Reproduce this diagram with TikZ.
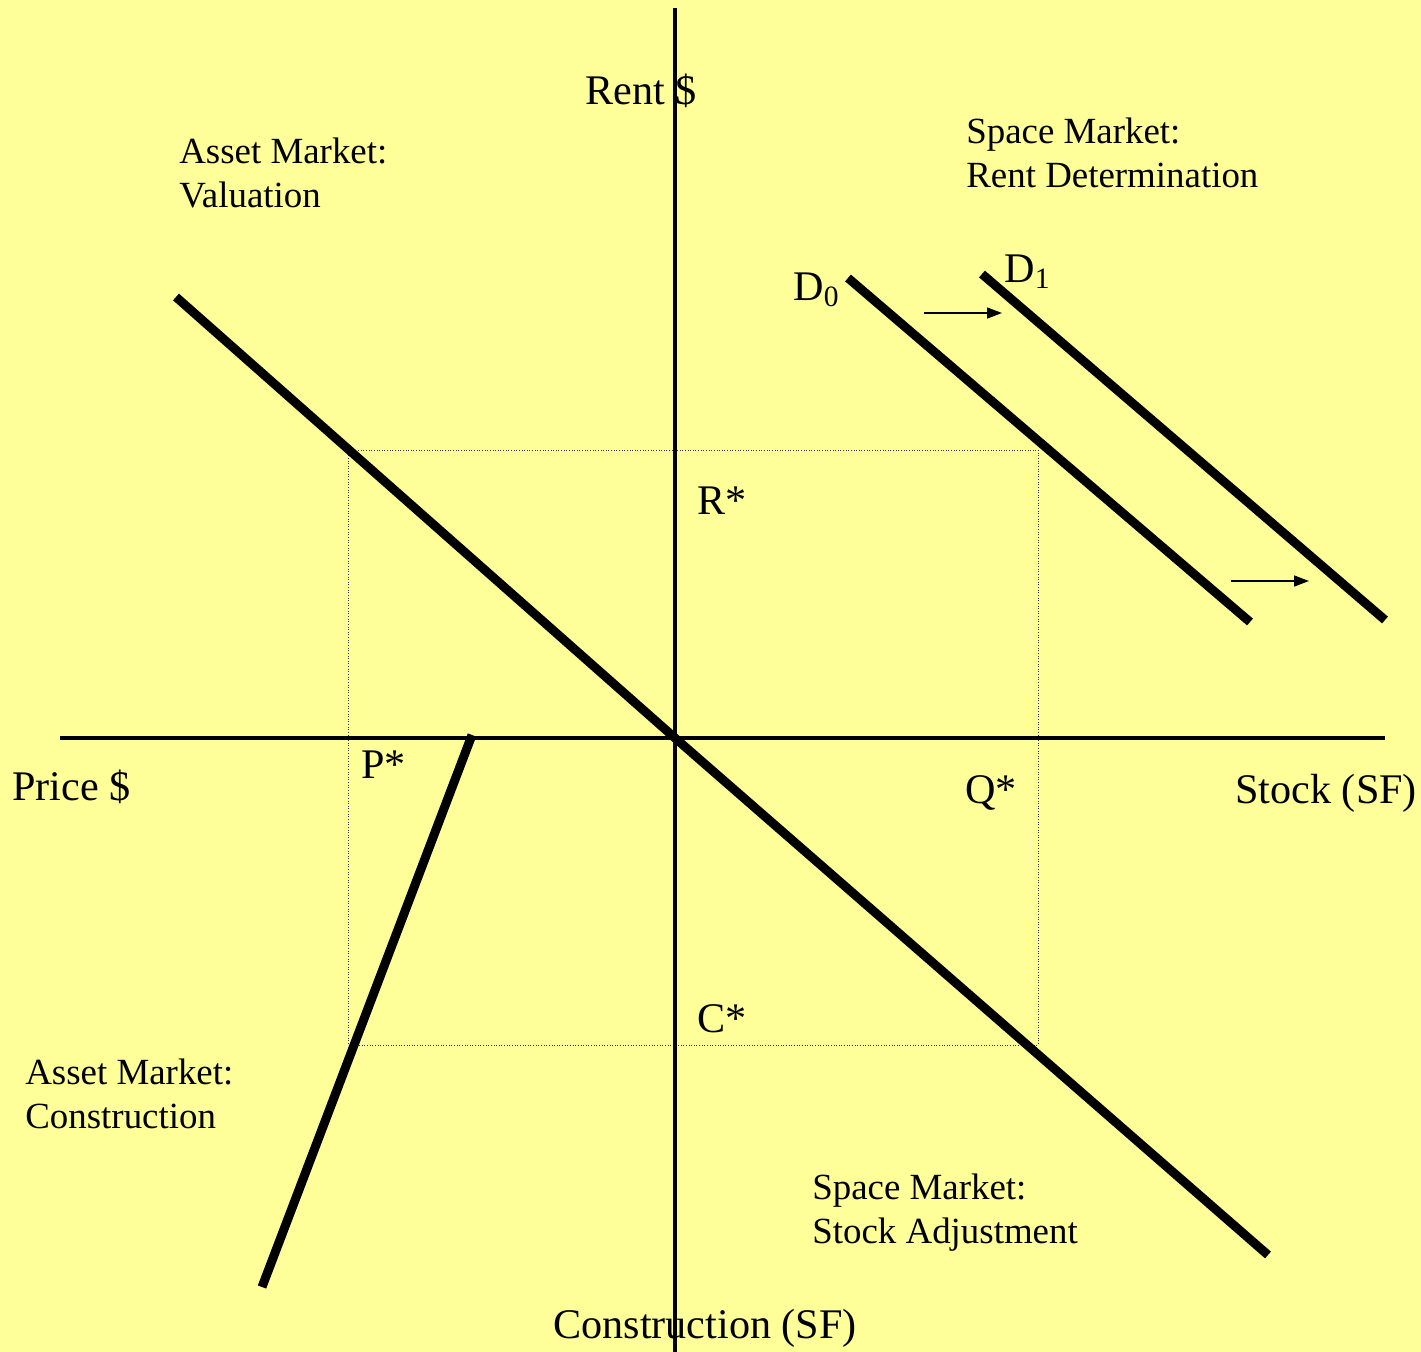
\documentclass[tikz,border=0pt]{standalone}
\usepackage{fontspec}
\setmainfont{Liberation Serif}
\usetikzlibrary{arrows.meta,positioning}
\definecolor{qsBack}{HTML}{FFFF99}
\tikzset{
  axis/.style={line width=2.3pt, black},
  curve/.style={line width=5.1pt, black},
  guide/.style={line width=0.5pt, black!80, densely dotted},
  shiftarrow/.style={-{Triangle[length=3mm, width=2.2mm]}, line width=0.9pt},
  lbl/.style={font=\fontsize{24}{28}\selectfont, inner sep=0pt, anchor=base west},
  note/.style={font=\fontsize{21}{25}\selectfont, inner sep=0pt, anchor=north west, align=left}
}
\begin{document}
\begin{tikzpicture}[x=0.02cm, y=-0.02cm]
  % background
  \fill[qsBack] (0,0) rectangle (1421,1352);
  \useasboundingbox (0,0) rectangle (1421,1352);

  % axes
  \coordinate (o) at (675,738);
  \coordinate (ytop) at (675,8);
  \coordinate (ybot) at (675,1352);
  \coordinate (xl) at (60,738);
  \coordinate (xr) at (1385,738);

  % equilibrium box
  \coordinate (bnw) at (348,450);
  \coordinate (bse) at (1038,1045);
  \draw[guide] (bnw) rectangle (bse);

  \draw[axis] (ytop) -- (ybot);
  \draw[axis] (xl) -- (xr);

  % curves
  \coordinate (val0) at (176,297);
  \coordinate (stk1) at (1268,1255);
  \coordinate (d0a) at (848,278);
  \coordinate (d0b) at (1250,622);
  \coordinate (d1a) at (982,274);
  \coordinate (d1b) at (1385,620);
  \coordinate (con0) at (472,735);
  \coordinate (con1) at (262,1287);
  \draw[curve] (val0) -- (o);
  \draw[curve] (o) -- (stk1);
  \draw[curve] (d0a) -- (d0b);
  \draw[curve] (d1a) -- (d1b);
  \draw[curve] (con0) -- (con1);

  % demand shift
  \coordinate (sh1a) at (924,313);
  \coordinate (sh1b) at (1002,313);
  \coordinate (sh2a) at (1231,581);
  \coordinate (sh2b) at (1309,581);
  \draw[shiftarrow] (sh1a) -- (sh1b);
  \draw[shiftarrow] (sh2a) -- (sh2b);

  % axis labels
  \node[lbl] (rent) at (585,104) {Rent \$};
  \node[lbl] (price) at (12,800) {Price \$};
  \node[lbl] (stock) at (1235,803) {Stock (SF)};
  \node[lbl] (constr) at (553,1338) {Construction (SF)};

  % equilibrium labels
  \node[lbl] (rstar) at (697,514) {R*};
  \node[lbl] (pstar) at (361,778) {P*};
  \node[lbl] (qstar) at (965,803) {Q*};
  \node[lbl] (cstar) at (697,1032) {C*};
  \node[lbl] (dzero) at (793,300) {D$_{\mathrm{0}}$};
  \node[lbl] (done) at (1004,282) {D$_{\mathrm{1}}$};

  % quadrant notes
  \node[note] (valnote) at (179,138) {Asset Market:\\Valuation};
  \node[note] (rentnote) at (966,118) {Space Market:\\Rent Determination};
  \node[note] (connote) at (25,1059) {Asset Market:\\Construction};
  \node[note] (stknote) at (812,1174) {Space Market:\\Stock Adjustment};
\end{tikzpicture}
\end{document}
